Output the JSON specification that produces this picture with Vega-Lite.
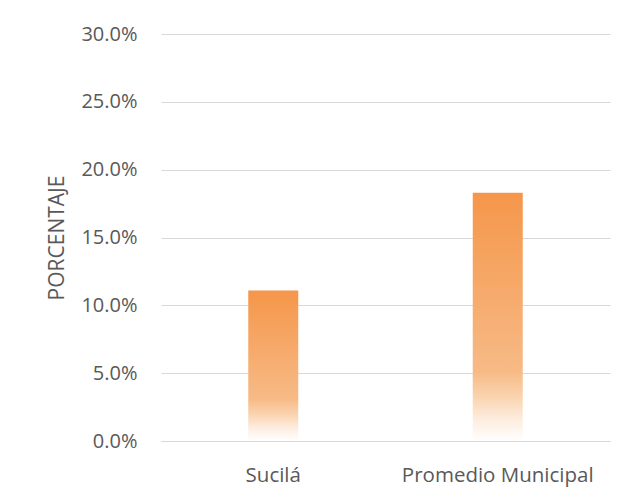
{
  "$schema": "https://vega.github.io/schema/vega-lite/v6.json",
  "autosize": "none",
  "padding": {"left": 161, "top": 34, "right": 21, "bottom": 58},
  "width": 449,
  "height": 407,
  "background": "#ffffff",
  "config": {"view": {"stroke": null}, "font": "Open Sans"},
  "data": {"values": [
    {"lugar": "Sucilá", "porcentaje": 0.111},
    {"lugar": "Promedio Municipal", "porcentaje": 0.183}
  ]},
  "mark": {
    "type": "bar",
    "width": 50,
    "color": {
      "gradient": "linear",
      "x1": 0, "y1": 0, "x2": 0, "y2": 1,
      "stops": [
        {"offset": 0, "color": "#F5964A"},
        {"offset": 0.72, "color": "#F7BA86"},
        {"offset": 0.82, "color": "#FAD3AE"},
        {"offset": 0.91, "color": "#FDECDE"},
        {"offset": 1, "color": "#FFFFFF"}
      ]
    }
  },
  "encoding": {
    "x": {
      "field": "lugar",
      "type": "nominal",
      "sort": ["Sucilá", "Promedio Municipal"],
      "scale": {"paddingInner": 0, "paddingOuter": 0},
      "axis": {
        "title": null,
        "labelAngle": 0,
        "labelFont": "Open Sans",
        "labelFontSize": 20.5,
        "labelLimit": 400,
        "labelColor": "#595959",
        "labelBaseline": "alphabetic",
        "labelPadding": 40,
        "ticks": false,
        "tickSize": 0,
        "domainColor": "#d9d9d9",
        "domainWidth": 1.2,
        "grid": false
      }
    },
    "y": {
      "field": "porcentaje",
      "type": "quantitative",
      "scale": {"domain": [0, 0.3], "nice": false},
      "axis": {
        "title": "PORCENTAJE",
        "titleFont": "Open Sans",
        "titleFontSize": 21,
        "titleFontWeight": "normal",
        "titleColor": "#595959",
        "titleX": -104,
        "titleY": 203.5,
        "titleAngle": -90,
        "titleAlign": "center",
        "titleBaseline": "middle",
        "values": [0, 0.05, 0.1, 0.15, 0.2, 0.25, 0.3],
        "format": ".1%",
        "labelFont": "Open Sans",
        "labelFontSize": 20,
        "labelColor": "#595959",
        "labelPadding": 24,
        "ticks": false,
        "tickSize": 0,
        "domain": false,
        "grid": true,
        "gridColor": "#d9d9d9",
        "gridWidth": 1
      }
    }
  }
}
